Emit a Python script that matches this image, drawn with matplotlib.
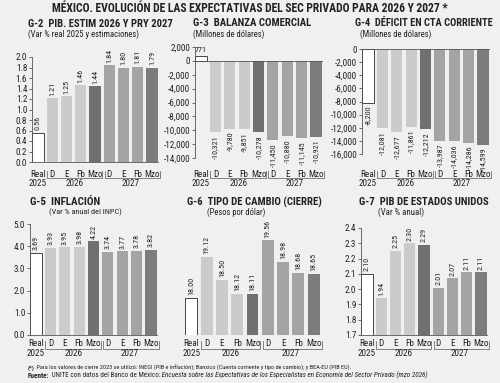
"""
expectativas.py — México: evolución de las expectativas del sector privado 2026/2027.
Six small bar panels (G-2 .. G-7) on one sheet, same look as the print page.
"""

import matplotlib
matplotlib.use("Agg")
import matplotlib.pyplot as plt
import matplotlib.transforms as mtransforms
import numpy as np

# ── data ────────────────────────────────────────────────────────────────────
periods = ["Real", "D", "E", "Fb", "Mzo", "D", "E", "Fb", "Mzo"]
years = ["2025", "2026", "2027"]

pib_mx = [0.56, 1.21, 1.25, 1.46, 1.44, 1.84, 1.80, 1.81, 1.79]
balanza = [771, -10321, -9780, -9851, -10278, -11450, -10880, -11145, -10921]
cta_corriente = [-8200, -12081, -12677, -11861, -12212, -13987, -14036, -14286, -14599]
inflacion = [3.69, 3.93, 3.95, 3.98, 4.22, 3.74, 3.77, 3.78, 3.82]
tipo_cambio = [18.00, 19.12, 18.50, 18.12, 18.11, 19.56, 18.98, 18.68, 18.65]
pib_eu = [2.10, 1.94, 2.25, 2.30, 2.29, 2.01, 2.07, 2.11, 2.11]

# ── style ───────────────────────────────────────────────────────────────────
W, H = 500, 383
BG = "#f0f0f0"
INK = "#222222"
AXC = "#555555"
plt.rcParams["font.family"] = ["Roboto Condensed", "DejaVu Sans"]

LIGHT, MID, DARK26, DARK27 = "#cbcbcb", "#a4a4a4", "#707070", "#7c7c7c"
bar_colors = ["white", LIGHT, LIGHT, LIGHT, DARK26, MID, MID, MID, DARK27]

fig = plt.figure(figsize=(W / 100, H / 100), dpi=100)
fig.patch.set_facecolor(BG)
renderer = fig.canvas.get_renderer()


def rect(x0, x1, yt, yb):
    """pixel box -> figure fraction [l, b, w, h]"""
    return [x0 / W, 1 - yb / H, (x1 - x0) / W, (yb - yt) / H]


def fy(py):
    return 1 - py / H


def thousands(v):
    return f"{v:,.0f}"


def two(v):
    return f"{v:.2f}"


def dec1(v):
    return f"{v:.1f}"


def fit(t, width_px):
    """shrink/grow a text so it spans width_px"""
    w = t.get_window_extent(renderer=renderer).width
    t.set_fontsize(t.get_fontsize() * width_px / w)


def panel(box, vals, ylim, yticks, tick_fmt, lab_fmt, lab_y, show_y=True,
          horiz_first=False, show_base=True):
    ax = fig.add_axes(rect(*box))
    ax.set_facecolor("none")
    x = np.arange(len(vals))
    base = ylim[0] if ylim[0] > 0 else 0
    heights = [v - base for v in vals]
    ax.bar(x, heights, 0.78, bottom=base, color=bar_colors,
           edgecolor=["#444444"] + ["none"] * 8, linewidth=0.7, zorder=2)
    ax.set_xlim(-0.42, 8.42)
    ax.set_ylim(*ylim)

    for i, v in enumerate(vals):
        txt = lab_fmt(v)
        if i == 0 and horiz_first:
            ax.annotate(txt, (i, v), xytext=(0, 1.5), textcoords="offset points",
                        ha="center", va="bottom", fontsize=5.8, color=INK)
        elif v >= 0:
            ax.annotate(txt, (i, v), xytext=(0, 2), textcoords="offset points",
                        rotation=90, ha="center", va="bottom", fontsize=5.8,
                        color=INK, annotation_clip=False)
        else:
            ax.annotate(txt, (i, v), xytext=(0, -2), textcoords="offset points",
                        rotation=90, ha="center", va="top", fontsize=5.8,
                        color=INK, annotation_clip=False)

    for s in ("top", "right"):
        ax.spines[s].set_visible(False)
    ax.spines["bottom"].set_color(AXC)
    ax.spines["bottom"].set_linewidth(0.6)
    ax.spines["bottom"].set_visible(show_base)
    if ylim[0] < 0:
        ax.spines["bottom"].set_position(("data", 0))
    ax.set_xticks([])
    if show_y:
        ax.spines["left"].set_color(AXC)
        ax.spines["left"].set_linewidth(0.6)
        ax.set_yticks(yticks)
        ax.set_yticklabels([tick_fmt(t) for t in yticks])
        ax.tick_params(axis="y", length=2, width=0.6, color=AXC, pad=1.5,
                       labelsize=6.6, labelcolor=INK)
    else:
        ax.spines["left"].set_visible(False)
        ax.set_yticks([])

    # period labels, brackets and years under the bars
    tr = mtransforms.blended_transform_factory(ax.transData, fig.transFigure)
    for i, p in enumerate(periods):
        ax.text(i, fy(lab_y), p, transform=tr, ha="center", va="center",
                fontsize=6.6, color=INK)
    for a, b in ((0.63, 4.5), (4.68, 8.55)):
        ax.plot([a, a, b, b], [fy(lab_y - 3), fy(lab_y + 4.5), fy(lab_y + 4.5), fy(lab_y - 3)],
                transform=tr, color=AXC, lw=0.5, clip_on=False)
    for xpos, yr in zip((0, 2.6, 6.5), years):
        ax.text(xpos, fy(lab_y + 10), yr, transform=tr, ha="center", va="center",
                fontsize=6.6, color=INK)
    return ax


panel((32, 158, 57, 162), pib_mx, (0, 2.0), np.round(np.arange(0, 2.01, 0.2), 1),
      dec1, two, 174)
panel((195, 322, 47, 158), balanza, (-14000, 2000), np.arange(-14000, 2001, 2000),
      thousands, thousands, 174, horiz_first=True)
panel((362, 489, 49, 154), cta_corriente, (-16000, 0), np.arange(-16000, 1, 2000),
      thousands, thousands, 174)
panel((30, 157, 224, 335), inflacion, (0, 5.0), np.arange(0, 5.01, 1.0),
      dec1, two, 344)
panel((185, 320, 224, 335), tipo_cambio, (17.0, 20.0), [], dec1, two, 344,
      show_y=False, show_base=False)
panel((361, 487, 228, 335), pib_eu, (1.7, 2.4), np.round(np.arange(1.7, 2.401, 0.1), 1),
      dec1, two, 344)

# ── titles ──────────────────────────────────────────────────────────────────
t = fig.text(250 / W, fy(8),
             "MÉXICO. EVOLUCIÓN DE LAS EXPECTATIVAS DEL SEC PRIVADO PARA 2026 Y 2027 *",
             ha="center", va="center", fontsize=8.6, fontweight="bold", color=INK)
fit(t, 395)

titles = [
    (28, 24, 144, "G-2  PIB. ESTIM 2026 Y PRY 2027", 28, 34, 110, "(Var % real 2025 y estimaciones)"),
    (193, 23, 119, "G-3  BALANZA COMERCIAL", 193, 34, 72, "(Millones de dólares)"),
    (355, 23, 138, "G-4  DÉFICIT EN CTA CORRIENTE", 360, 34, 72, "(Millones de dólares)"),
    (30, 202, 70, "G-5  INFLACIÓN", 49, 212, 72, "(Var % anual del INPC)"),
    (187, 202, 135, "G-6  TIPO DE CAMBIO (CIERRE)", 207, 212, 59, "(Pesos por dólar)"),
    (359, 202, 129, "G-7  PIB DE ESTADOS UNIDOS", 378, 212, 45, "(Var % anual)"),
]
for tx, ty, tw, title, sx, sy, sw, sub in titles:
    t = fig.text(tx / W, fy(ty), title, ha="left", va="center", fontsize=7.4,
                 fontweight="bold", color=INK)
    fit(t, tw)
    s = fig.text(sx / W, fy(sy), sub, ha="left", va="center", fontsize=5.9, color=INK)
    fit(s, sw)


# ── footnote with mixed styles ──────────────────────────────────────────────
def place(x_px, y_px, pieces, size):
    x = x_px
    made = []
    for txt, weight, style in pieces:
        tt = fig.text(x / W, fy(y_px), txt, ha="left", va="center", fontsize=size,
                      fontweight=weight, fontstyle=style, color=INK)
        x += tt.get_window_extent(renderer=renderer).width
        made.append(tt)
    return made, x - x_px


def rich_line(x_px, y_px, pieces, width_px, size=5.0):
    made, total = place(x_px, y_px, pieces, size)   # trial run to measure
    for tt in made:
        tt.remove()
    place(x_px, y_px, pieces, size * width_px / total)


rich_line(28, 368, [
    ("(*)", "bold", "normal"),
    (" Para los valores de cierre 2023 se utilizó: INEGI (PIB e inflación); Banxico "
     "(Cuenta corriente y tipo de cambio); y BEA-EU (PIB EU).", "normal", "normal"),
], 332)
rich_line(28, 375.5, [
    ("Fuente:", "bold", "normal"),
    (" UNITE con datos del Banco de México:", "normal", "normal"),
    (" Encuesta sobre las Expectativas de los Especialistas en Economía del Sector "
     "Privado (mzo 2026)", "normal", "italic"),
], 404)

fig.savefig("out.png", dpi=100, facecolor=BG)
